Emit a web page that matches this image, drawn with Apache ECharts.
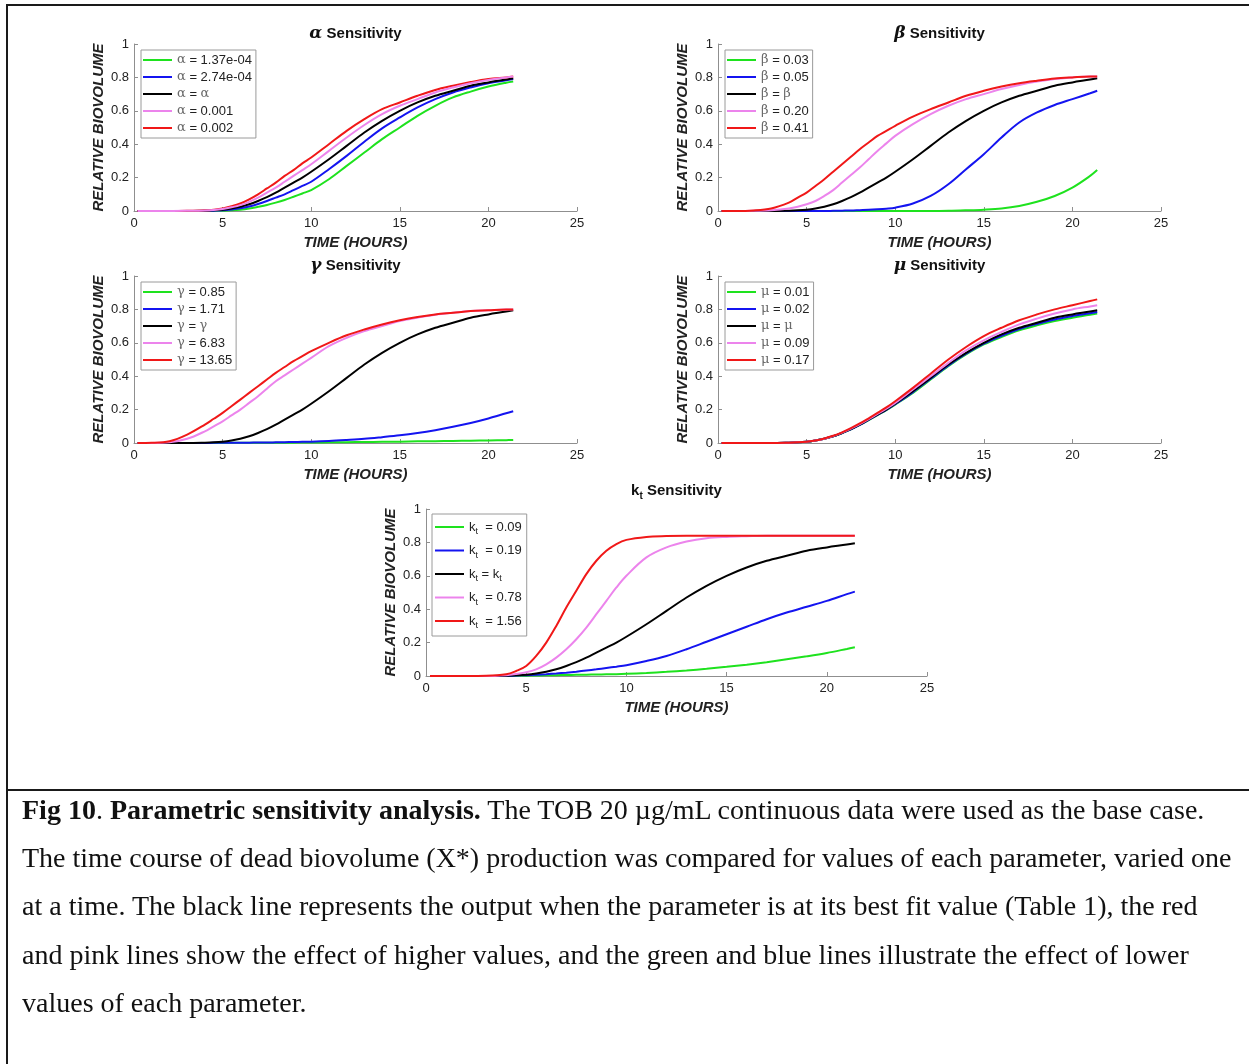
<!DOCTYPE html>
<html>
<head>
<meta charset="utf-8">
<script src="https://cdn.jsdelivr.net/npm/echarts@6/dist/echarts.min.js"></script>
<style>
  html, body { margin: 0; padding: 0; background: #fff; }
  body { width: 1249px; height: 1064px; position: relative; overflow: hidden; }
  #chart { position: absolute; left: 0; top: 0; width: 1249px; height: 790px; }
  .rule { position: absolute; background: #1a1a1a; }
  #caption {
    position: absolute; left: 22px; top: 786px;
    font-family: "Liberation Serif", "Times New Roman", serif;
    font-size: 28px; line-height: 48.2px; color: #111; white-space: nowrap;
  }
</style>
</head>
<body>
<div id="chart"></div>
<div class="rule" style="left:6px;top:4px;right:0;height:2px"></div>
<div class="rule" style="left:6px;top:4px;bottom:0;width:2px"></div>
<div class="rule" style="left:6px;top:789px;right:0;height:2px"></div>
<div id="caption"><b>Fig 10</b>. <b>Parametric sensitivity analysis.</b> The TOB 20 µg/mL continuous data were used as the base case.<br>The time course of dead biovolume (X*) production was compared for values of each parameter, varied one<br>at a time. The black line represents the output when the parameter is at its best fit value (Table 1), the red<br>and pink lines show the effect of higher values, and the green and blue lines illustrate the effect of lower<br>values of each parameter.</div>
<script>
// time (hours) shared by every curve
const hours = [0.2, 1, 2, 3, 4, 4.5, 5, 5.5, 6, 6.5, 7, 7.5, 8, 8.5, 9, 9.5, 10, 11, 12, 13, 14, 15, 16, 17, 18, 19, 20, 21, 21.4];

// best-fit case (black line, same in every panel)
const baseCase = [0, 0, 0, 0, 0.002, 0.004, 0.008, 0.015, 0.025, 0.04, 0.06, 0.083, 0.11, 0.14, 0.17, 0.20, 0.235, 0.31, 0.39, 0.47, 0.54, 0.60, 0.65, 0.69, 0.72, 0.75, 0.77, 0.787, 0.795];

const alphaGreen = [0, 0, 0, 0, 0, 0.001, 0.002, 0.004, 0.008, 0.015, 0.025, 0.036, 0.05, 0.066, 0.085, 0.105, 0.125, 0.19, 0.27, 0.35, 0.43, 0.50, 0.57, 0.63, 0.68, 0.715, 0.745, 0.768, 0.775];
const alphaBlue = [0, 0, 0, 0, 0.001, 0.002, 0.004, 0.009, 0.016, 0.027, 0.042, 0.06, 0.08, 0.10, 0.125, 0.15, 0.175, 0.25, 0.33, 0.415, 0.495, 0.56, 0.62, 0.67, 0.71, 0.74, 0.765, 0.783, 0.79];
const alphaPink = [0, 0, 0, 0.001, 0.003, 0.006, 0.012, 0.022, 0.035, 0.055, 0.08, 0.11, 0.14, 0.175, 0.21, 0.245, 0.28, 0.36, 0.44, 0.515, 0.58, 0.63, 0.67, 0.71, 0.74, 0.765, 0.785, 0.80, 0.805];
const alphaRed = [0, 0, 0, 0.001, 0.004, 0.008, 0.015, 0.028, 0.045, 0.07, 0.10, 0.135, 0.17, 0.21, 0.245, 0.285, 0.32, 0.40, 0.48, 0.55, 0.61, 0.65, 0.69, 0.725, 0.75, 0.772, 0.79, 0.80, 0.805];

const betaGreen = [0, 0, 0, 0, 0, 0, 0, 0, 0, 0, 0, 0, 0, 0, 0, 0, 0, 0, 0, 0.001, 0.004, 0.008, 0.015, 0.03, 0.055, 0.09, 0.14, 0.21, 0.245];
const betaBlue = [0, 0, 0, 0, 0, 0, 0, 0, 0, 0.001, 0.002, 0.003, 0.005, 0.007, 0.01, 0.014, 0.02, 0.045, 0.09, 0.16, 0.25, 0.34, 0.44, 0.53, 0.59, 0.635, 0.67, 0.705, 0.72];
const betaPink = [0, 0, 0.001, 0.005, 0.015, 0.025, 0.04, 0.06, 0.09, 0.125, 0.17, 0.215, 0.26, 0.31, 0.36, 0.405, 0.45, 0.52, 0.58, 0.63, 0.67, 0.70, 0.73, 0.755, 0.775, 0.79, 0.80, 0.805, 0.805];
const betaRed = [0, 0, 0.003, 0.015, 0.05, 0.08, 0.11, 0.15, 0.19, 0.235, 0.28, 0.325, 0.37, 0.41, 0.45, 0.48, 0.51, 0.565, 0.61, 0.65, 0.69, 0.72, 0.745, 0.765, 0.78, 0.793, 0.80, 0.805, 0.805];

const gammaGreen = [0, 0, 0, 0, 0, 0, 0, 0.001, 0.001, 0.001, 0.001, 0.002, 0.002, 0.002, 0.002, 0.003, 0.003, 0.004, 0.005, 0.006, 0.007, 0.008, 0.01, 0.011, 0.012, 0.014, 0.015, 0.017, 0.018];
const gammaBlue = [0, 0, 0, 0, 0, 0.001, 0.001, 0.001, 0.002, 0.002, 0.003, 0.003, 0.004, 0.005, 0.006, 0.007, 0.008, 0.012, 0.018, 0.025, 0.035, 0.046, 0.06, 0.077, 0.097, 0.12, 0.147, 0.178, 0.19];
const gammaPink = [0, 0, 0.004, 0.025, 0.07, 0.10, 0.13, 0.165, 0.20, 0.24, 0.28, 0.325, 0.37, 0.405, 0.44, 0.475, 0.51, 0.58, 0.63, 0.67, 0.70, 0.73, 0.75, 0.768, 0.78, 0.79, 0.795, 0.80, 0.80];
const gammaRed = [0, 0.001, 0.01, 0.05, 0.11, 0.145, 0.18, 0.22, 0.26, 0.30, 0.34, 0.38, 0.42, 0.455, 0.49, 0.52, 0.55, 0.60, 0.645, 0.68, 0.71, 0.735, 0.755, 0.77, 0.78, 0.79, 0.795, 0.80, 0.80];

const muGreen = [0, 0, 0, 0, 0.002, 0.004, 0.008, 0.015, 0.025, 0.04, 0.06, 0.082, 0.108, 0.137, 0.167, 0.197, 0.23, 0.30, 0.38, 0.46, 0.53, 0.59, 0.635, 0.675, 0.705, 0.73, 0.75, 0.768, 0.775];
const muBlue = [0, 0, 0, 0, 0.002, 0.004, 0.008, 0.015, 0.025, 0.04, 0.06, 0.082, 0.108, 0.138, 0.168, 0.198, 0.232, 0.305, 0.385, 0.465, 0.535, 0.595, 0.642, 0.682, 0.713, 0.74, 0.76, 0.777, 0.785];
const muPink = [0, 0, 0, 0, 0.002, 0.004, 0.008, 0.015, 0.026, 0.041, 0.062, 0.086, 0.113, 0.143, 0.174, 0.206, 0.24, 0.32, 0.40, 0.48, 0.555, 0.615, 0.665, 0.71, 0.745, 0.775, 0.80, 0.818, 0.825];
const muRed = [0, 0, 0, 0, 0.002, 0.004, 0.008, 0.015, 0.027, 0.043, 0.064, 0.089, 0.117, 0.148, 0.18, 0.213, 0.25, 0.33, 0.415, 0.50, 0.575, 0.64, 0.69, 0.735, 0.77, 0.80, 0.825, 0.85, 0.86];

const ktGreen = [0, 0, 0, 0, 0, 0.001, 0.002, 0.003, 0.004, 0.005, 0.006, 0.007, 0.008, 0.009, 0.01, 0.011, 0.013, 0.018, 0.025, 0.033, 0.043, 0.055, 0.068, 0.083, 0.10, 0.118, 0.138, 0.162, 0.172];
const ktBlue = [0, 0, 0, 0, 0.001, 0.003, 0.005, 0.008, 0.011, 0.015, 0.02, 0.026, 0.033, 0.04, 0.048, 0.056, 0.065, 0.09, 0.12, 0.16, 0.205, 0.25, 0.295, 0.34, 0.38, 0.415, 0.45, 0.49, 0.505];
const ktPink = [0, 0, 0, 0, 0.005, 0.012, 0.022, 0.04, 0.07, 0.11, 0.16, 0.22, 0.29, 0.37, 0.45, 0.53, 0.60, 0.71, 0.77, 0.805, 0.825, 0.833, 0.837, 0.84, 0.84, 0.84, 0.84, 0.84, 0.84];
const ktRed = [0, 0, 0, 0.001, 0.01, 0.03, 0.06, 0.12, 0.20, 0.30, 0.41, 0.51, 0.61, 0.69, 0.75, 0.79, 0.815, 0.833, 0.838, 0.84, 0.84, 0.84, 0.84, 0.84, 0.84, 0.84, 0.84, 0.84, 0.84];

// legend entries, in legend order: green, blue, black, pink, red
const alphaNames = ["α = 1.37e-04", "α = 2.74e-04", "α = α", "α = 0.001", "α = 0.002"];
const betaNames = ["β = 0.03", "β = 0.05", "β = β", "β = 0.20", "β = 0.41"];
const gammaNames = ["γ = 0.85", "γ = 1.71", "γ = γ", "γ = 6.83", "γ = 13.65"];
const muNames = ["μ = 0.01", "μ = 0.02", "μ = μ", "μ = 0.09", "μ = 0.17"];
const ktNames = ["kt  = 0.09", "kt  = 0.19", "kt = kt", "kt  = 0.78", "kt  = 1.56"];

const xTicks = [0, 5, 10, 15, 20, 25];
const yTicks = [0, 0.2, 0.4, 0.6, 0.8, 1];

const colors = ["#1ee21e", "#1414f0", "#000000", "#ec84ec", "#f01818"];
const sans = "Liberation Sans, Arial, Helvetica, sans-serif";
const axisGrey = "#8f8f8f";
const ink = "#222";

const panels = [
  { left: 134, top: 44, width: 443, symbol: "α", names: alphaNames, curves: [alphaGreen, alphaBlue, baseCase, alphaPink, alphaRed], order: [0, 1, 2, 4, 3] },
  { left: 718, top: 44, width: 443, symbol: "β", names: betaNames, curves: [betaGreen, betaBlue, baseCase, betaPink, betaRed] },
  { left: 134, top: 276, width: 443, symbol: "γ", names: gammaNames, curves: [gammaGreen, gammaBlue, baseCase, gammaPink, gammaRed] },
  { left: 718, top: 276, width: 443, symbol: "μ", names: muNames, curves: [muGreen, muBlue, baseCase, muPink, muRed] },
  { left: 426, top: 509, width: 501, symbol: "kt", names: ktNames, curves: [ktGreen, ktBlue, baseCase, ktPink, ktRed] },
];
const plotHeight = 167;

function legendText(name) {
  if (name.startsWith("kt")) {
    return name.replace(/kt/g, "{k|k}{s|t}");
  }
  return name.replace(/[αβγμ]/g, (c) => `{g|${c}}`);
}

const legendRich = {
  g: { fontFamily: "DejaVu Serif, serif", fontSize: 13, color: "#6a6a6a" },
  k: { fontFamily: sans, fontSize: 13, color: ink },
  s: { fontFamily: sans, fontSize: 9, color: ink, padding: [10, 0, 0, 0] },
};

const grid = [], xAxis = [], yAxis = [], legend = [], series = [], graphic = [];

panels.forEach((p, i) => {
  grid.push({ left: p.left, top: p.top, width: p.width, height: plotHeight });
  xAxis.push({
    gridIndex: i, type: "value", min: xTicks[0], max: xTicks[xTicks.length - 1], interval: 5,
    name: "TIME (HOURS)", nameLocation: "middle", nameGap: 24,
    nameTextStyle: { fontFamily: sans, fontSize: 15, fontWeight: "bold", fontStyle: "italic", color: ink },
    axisLine: { lineStyle: { color: axisGrey, width: 1 } },
    axisTick: { inside: true, length: 4, lineStyle: { color: axisGrey } },
    axisLabel: { fontFamily: sans, fontSize: 13, color: ink, margin: 6 },
    splitLine: { show: false },
  });
  yAxis.push({
    gridIndex: i, type: "value", min: yTicks[0], max: yTicks[yTicks.length - 1], interval: 0.2,
    name: "RELATIVE BIOVOLUME", nameLocation: "middle", nameGap: 28,
    nameTextStyle: { fontFamily: sans, fontSize: 15, fontWeight: "bold", fontStyle: "italic", color: ink },
    axisLine: { show: true, lineStyle: { color: axisGrey, width: 1 } },
    axisTick: { show: true, inside: true, length: 4, lineStyle: { color: axisGrey } },
    axisLabel: { fontFamily: sans, fontSize: 13, color: ink, margin: 5 },
    splitLine: { show: false },
  });

  const isKt = p.symbol === "kt";
  legend.push({
    data: p.names,
    orient: "vertical",
    left: isKt ? p.left + 6 : p.left + 7,
    top: isKt ? p.top + 5 : p.top + 6,
    icon: "rect", itemWidth: 29, itemHeight: 2, itemGap: isKt ? 3.5 : 3,
    padding: isKt ? [3, 5, 5, 3] : [3, 4, 3, 2],
    borderColor: "#9a9a9a", borderWidth: 1, borderRadius: 0, backgroundColor: "#fff",
    textStyle: { fontFamily: sans, fontSize: 13, color: ink, lineHeight: isKt ? 20 : 14, rich: legendRich },
    formatter: legendText,
    selectedMode: false,
  });

  const order = p.order || [0, 1, 2, 3, 4];
  order.forEach((k) => {
    series.push({
      type: "line", name: p.names[k], xAxisIndex: i, yAxisIndex: i,
      data: hours.map((t, j) => [t, p.curves[k][j]]),
      symbol: "none", smooth: 0.35,
      lineStyle: { width: 2, color: colors[k] }, itemStyle: { color: colors[k] },
      silent: true,
    });
  });

  const cx = p.left + p.width / 2;
  const cy = isKt ? p.top - 18 : p.top - 10;
  const head = isKt ? "{b|k}{bs|t}" : `{gr|${p.symbol}}`;
  graphic.push({
    type: "text", x: cx, y: cy,
    style: {
      text: `${head}{b| Sensitivity}`,
      align: "center", verticalAlign: "middle",
      rich: {
        gr: { fontFamily: "DejaVu Serif, serif", fontSize: 17, fontWeight: "bold", fontStyle: "italic", fill: "#111" },
        b: { fontFamily: sans, fontSize: 15, fontWeight: "bold", fill: "#111" },
        bs: { fontFamily: sans, fontSize: 10, fontWeight: "bold", fill: "#111", padding: [11, 0, 0, 0] },
      },
    },
  });
});

const chart = echarts.init(document.getElementById("chart"), null, { renderer: "canvas" });
chart.setOption({
  animation: false,
  backgroundColor: "transparent",
  grid, xAxis, yAxis, legend, series, graphic,
});
</script>
</body>
</html>
